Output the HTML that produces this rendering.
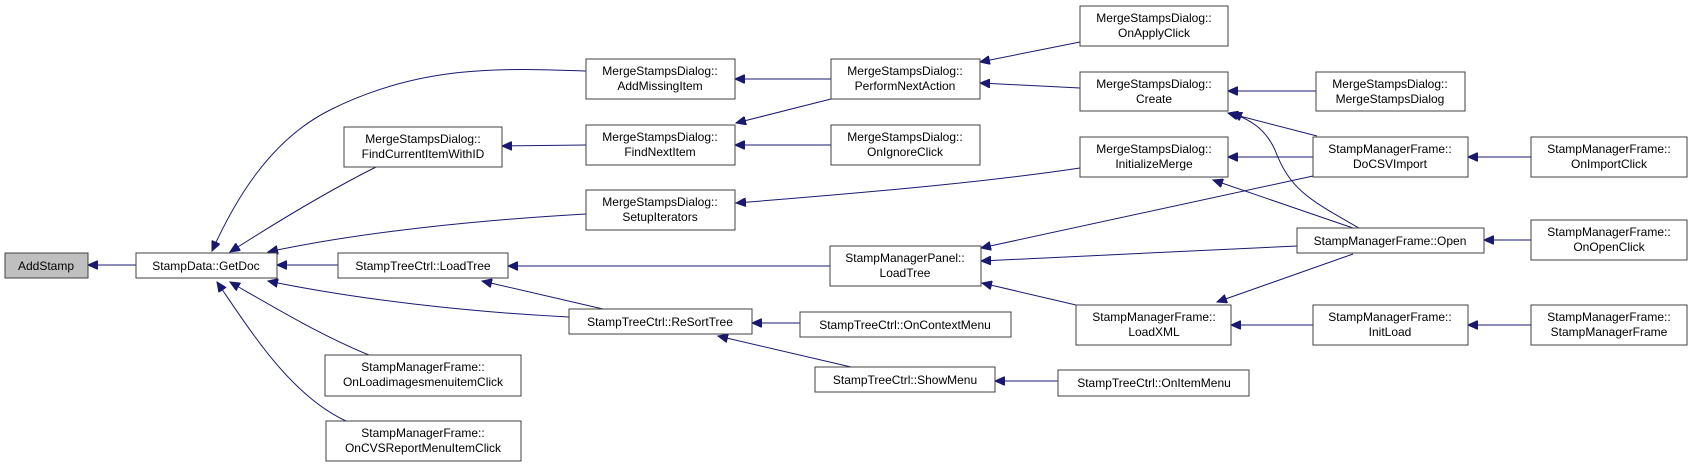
<!DOCTYPE html>
<html><head><meta charset="utf-8"><style>
html,body{margin:0;padding:0;background:#fff}
svg{display:block}
text{font-family:"Liberation Sans",Arial,sans-serif;font-size:12px;fill:#000;text-anchor:middle}
rect{fill:#fff;stroke:#404040;stroke-width:1}
path{fill:none;stroke:#191970;stroke-width:1}
</style></head><body>
<svg width="1692" height="467" viewBox="0 0 1692 467" xmlns="http://www.w3.org/2000/svg">
<defs><marker id="a" markerWidth="11" markerHeight="9" refX="10" refY="4.5" orient="auto" markerUnits="userSpaceOnUse"><path d="M0,0 L10,4.5 L0,9 Z" style="fill:#191970;stroke:#191970"/></marker></defs>
<g>
<path marker-end="url(#a)" d="M136,265 L88,265"/>
<path marker-end="url(#a)" d="M586,71 C500,68 420,65 330,110 C270,140 235,200 212,251"/>
<path marker-end="url(#a)" d="M376,167 C330,190 280,220 230,252"/>
<path marker-end="url(#a)" d="M586,214 C480,220 360,232 268,252"/>
<path marker-end="url(#a)" d="M338,265 L277,265"/>
<path marker-end="url(#a)" d="M569,317 C470,312 360,300 268,281"/>
<path marker-end="url(#a)" d="M369,355 C320,335 270,305 230,282"/>
<path marker-end="url(#a)" d="M346,421 C290,395 250,330 217,282"/>
<path marker-end="url(#a)" d="M586,145 L502,146"/>
<path marker-end="url(#a)" d="M831,79 L735,79"/>
<path marker-end="url(#a)" d="M831,99 L736,123"/>
<path marker-end="url(#a)" d="M831,145 L735,145"/>
<path marker-end="url(#a)" d="M1080,168 C1000,180 900,190 736,203"/>
<path marker-end="url(#a)" d="M830,266 L508,266"/>
<path marker-end="url(#a)" d="M603,309 L482,281"/>
<path marker-end="url(#a)" d="M800,323 L752,323"/>
<path marker-end="url(#a)" d="M851,367 L718,336"/>
<path marker-end="url(#a)" d="M1058,381 L995,381"/>
<path marker-end="url(#a)" d="M1080,42 L980,62"/>
<path marker-end="url(#a)" d="M1080,88 L980,83"/>
<path marker-end="url(#a)" d="M1316,91 L1228,91"/>
<path marker-end="url(#a)" d="M1313,157 L1228,157"/>
<path marker-end="url(#a)" d="M1317,136 L1228,113"/>
<path marker-end="url(#a)" d="M1359,228 C1310,200 1290,190 1275,150 C1265,128 1250,120 1232,113"/>
<path marker-end="url(#a)" d="M1353,228 L1213,180"/>
<path marker-end="url(#a)" d="M1531,157 L1468,157"/>
<path marker-end="url(#a)" d="M1313,176 L981,248"/>
<path marker-end="url(#a)" d="M1297,246 L981,261"/>
<path marker-end="url(#a)" d="M1076,305 L982,283"/>
<path marker-end="url(#a)" d="M1353,254 L1217,302"/>
<path marker-end="url(#a)" d="M1313,325 L1231,325"/>
<path marker-end="url(#a)" d="M1531,325 L1468,325"/>
<path marker-end="url(#a)" d="M1531,240 L1484,240"/>
</g>
<g>
<rect x="5" y="253" width="83" height="25" style="fill:#bfbfbf"/><text x="46" y="270">AddStamp</text>
<rect x="136" y="253" width="141" height="25"/><text x="206" y="270">StampData::GetDoc</text>
<rect x="344" y="127" width="158" height="40"/><text x="423" y="143">MergeStampsDialog::</text><text x="423" y="158">FindCurrentItemWithID</text>
<rect x="338" y="253" width="170" height="25"/><text x="423" y="270">StampTreeCtrl::LoadTree</text>
<rect x="325" y="355" width="196" height="41"/><text x="423" y="371">StampManagerFrame::</text><text x="423" y="386">OnLoadimagesmenuitemClick</text>
<rect x="326" y="421" width="195" height="40"/><text x="423" y="437">StampManagerFrame::</text><text x="423" y="452">OnCVSReportMenuItemClick</text>
<rect x="586" y="59" width="149" height="40"/><text x="660" y="75">MergeStampsDialog::</text><text x="660" y="90">AddMissingItem</text>
<rect x="586" y="125" width="149" height="40"/><text x="660" y="141">MergeStampsDialog::</text><text x="660" y="156">FindNextItem</text>
<rect x="586" y="190" width="149" height="40"/><text x="660" y="206">MergeStampsDialog::</text><text x="660" y="221">SetupIterators</text>
<rect x="569" y="309" width="183" height="25"/><text x="660" y="326">StampTreeCtrl::ReSortTree</text>
<rect x="831" y="59" width="149" height="40"/><text x="905" y="75">MergeStampsDialog::</text><text x="905" y="90">PerformNextAction</text>
<rect x="831" y="125" width="149" height="40"/><text x="905" y="141">MergeStampsDialog::</text><text x="905" y="156">OnIgnoreClick</text>
<rect x="830" y="246" width="151" height="40"/><text x="905" y="262">StampManagerPanel::</text><text x="905" y="277">LoadTree</text>
<rect x="800" y="312" width="211" height="25"/><text x="905" y="329">StampTreeCtrl::OnContextMenu</text>
<rect x="815" y="367" width="180" height="25"/><text x="905" y="384">StampTreeCtrl::ShowMenu</text>
<rect x="1080" y="6" width="148" height="40"/><text x="1154" y="22">MergeStampsDialog::</text><text x="1154" y="37">OnApplyClick</text>
<rect x="1080" y="72" width="148" height="39"/><text x="1154" y="88">MergeStampsDialog::</text><text x="1154" y="103">Create</text>
<rect x="1080" y="137" width="148" height="40"/><text x="1154" y="153">MergeStampsDialog::</text><text x="1154" y="168">InitializeMerge</text>
<rect x="1076" y="305" width="155" height="40"/><text x="1154" y="321">StampManagerFrame::</text><text x="1154" y="336">LoadXML</text>
<rect x="1058" y="370" width="191" height="26"/><text x="1154" y="387">StampTreeCtrl::OnItemMenu</text>
<rect x="1316" y="72" width="149" height="39"/><text x="1390" y="88">MergeStampsDialog::</text><text x="1390" y="103">MergeStampsDialog</text>
<rect x="1313" y="137" width="155" height="40"/><text x="1390" y="153">StampManagerFrame::</text><text x="1390" y="168">DoCSVImport</text>
<rect x="1297" y="228" width="187" height="25"/><text x="1390" y="245">StampManagerFrame::Open</text>
<rect x="1313" y="305" width="155" height="40"/><text x="1390" y="321">StampManagerFrame::</text><text x="1390" y="336">InitLoad</text>
<rect x="1531" y="137" width="156" height="40"/><text x="1609" y="153">StampManagerFrame::</text><text x="1609" y="168">OnImportClick</text>
<rect x="1531" y="220" width="156" height="40"/><text x="1609" y="236">StampManagerFrame::</text><text x="1609" y="251">OnOpenClick</text>
<rect x="1531" y="305" width="156" height="40"/><text x="1609" y="321">StampManagerFrame::</text><text x="1609" y="336">StampManagerFrame</text>
</g>
</svg>
</body></html>
